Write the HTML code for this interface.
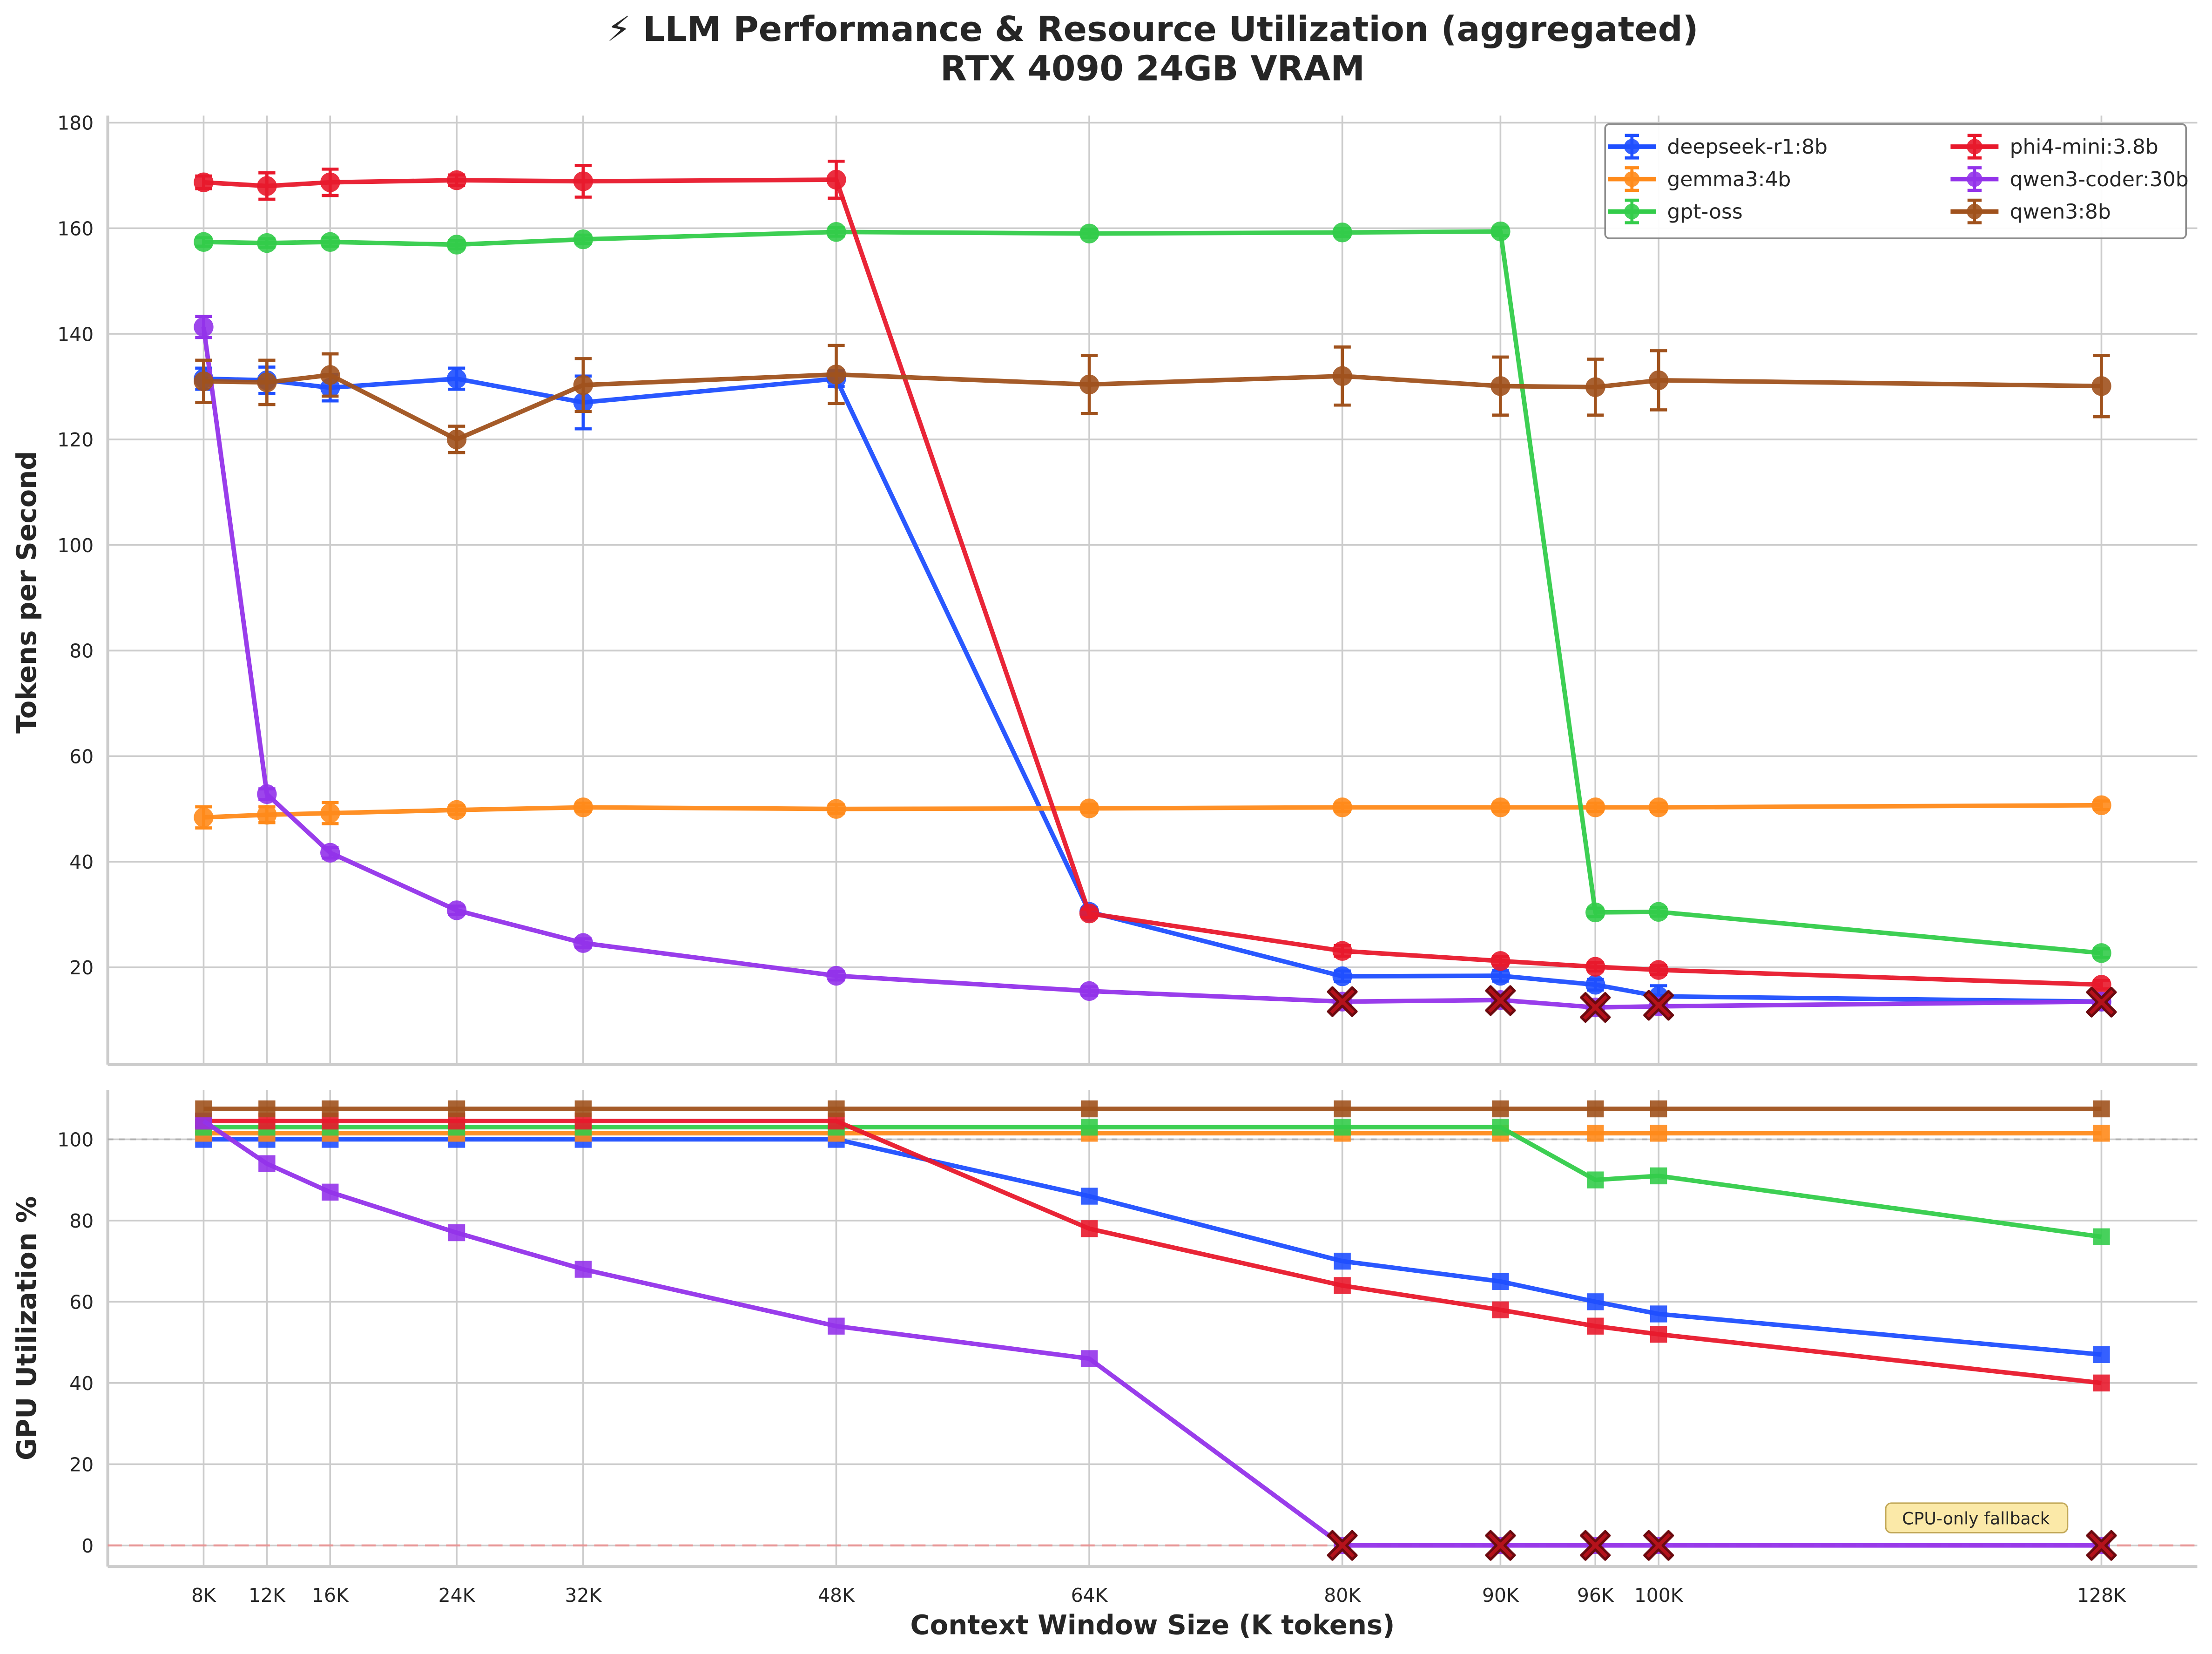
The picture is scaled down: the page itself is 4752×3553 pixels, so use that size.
<!DOCTYPE html>
<html><head><meta charset="utf-8"><style>
html,body{margin:0;padding:0;background:#fff}
svg{display:block}
text{font-family:"DejaVu Sans","Liberation Sans",sans-serif;fill:#262626}
</style></head><body>
<svg id="chart" xmlns="http://www.w3.org/2000/svg" width="4752" height="3553" viewBox="0 0 1568 1173">
<rect width="1568" height="1173" fill="#fff"/>
<text x="817" y="29" text-anchor="middle" font-size="24.5" font-weight="bold">⚡ LLM Performance &amp; Resource Utilization (aggregated)</text>
<text x="817" y="57" text-anchor="middle" font-size="24.5" font-weight="bold">RTX 4090 24GB VRAM</text>
<g id="topPlot"></g><g id="botPlot"></g><g id="legendGroup"></g>
</svg>
<script>
const contexts=[8,12,16,24,32,48,64,80,90,96,100,128];
const tickLabels=["8K","12K","16K","24K","32K","48K","64K","80K","90K","96K","100K","128K"];
const models=["deepseek-r1:8b","gemma3:4b","gpt-oss","phi4-mini:3.8b","qwen3-coder:30b","qwen3:8b"];
const colors=["#1f4fff","#ff8a1a","#33cc4a","#e8192c","#9333ea","#a0521d"];
const tpsDeepseek=[131.5,131.2,129.8,131.5,127,131.5,30.5,18.3,18.4,16.7,14.5,13.5];
const tpsGemma=[48.4,48.9,49.2,49.8,50.3,50.0,50.1,50.3,50.3,50.3,50.3,50.7];
const tpsGptoss=[157.4,157.2,157.4,156.9,157.9,159.3,159.0,159.2,159.4,30.4,30.5,22.7];
const tpsPhi4=[168.7,168.0,168.7,169.1,168.9,169.2,30.2,23.1,21.2,20.1,19.5,16.7];
const tpsQwenCoder=[141.3,52.8,41.7,30.8,24.6,18.4,15.5,13.5,13.8,12.4,12.6,13.5];
const tpsQwen3=[131.0,130.8,132.2,120.0,130.3,132.3,130.4,132.0,130.1,129.9,131.2,130.1];
const errDeepseek=[2,2.5,2.5,2,5,1.5,0.8,1,1,1,2,0.8];
const errGemma=[2,1.5,2,0.8,0.8,0.8,0.8,0.8,0.8,0.8,0.8,0.8];
const errGptoss=[0.8,0.8,0.8,0.8,0.8,0.8,0.8,0.8,0.8,0.8,0.8,0.8];
const errPhi4=[1.2,2.5,2.5,1,3,3.5,0.8,1,0.8,0.8,0.8,0.8];
const errQwenCoder=[2,1,1,0.8,0.8,0.8,0.8,0.8,0.8,0.8,0.8,0.8];
const errQwen3=[4,4.2,4,2.5,5,5.5,5.5,5.5,5.5,5.3,5.6,5.8];
const gpuDeepseek=[100,100,100,100,100,100,86,70,65,60,57,47];
const gpuGemma=[101.5,101.5,101.5,101.5,101.5,101.5,101.5,101.5,101.5,101.5,101.5,101.5];
const gpuGptoss=[103,103,103,103,103,103,103,103,103,90,91,76];
const gpuPhi4=[104.5,104.5,104.5,104.5,104.5,104.5,78,64,58,54,52,40];
const gpuQwenCoder=[104.5,94,87,77,68,54,46,0,0,0,0,0];
const gpuQwen3=[107.5,107.5,107.5,107.5,107.5,107.5,107.5,107.5,107.5,107.5,107.5,107.5];
const cpuFallbackCtx=[80,90,96,100,128];
const cpuFallbackTps=[13.5,13.7,12.4,12.8,13.4];
const tpsTicks=[20,40,60,80,100,120,140,160,180];
const gpuTicks=[0,20,40,60,80,100];
const tps=[tpsDeepseek,tpsGemma,tpsGptoss,tpsPhi4,tpsQwenCoder,tpsQwen3];
const errs=[errDeepseek,errGemma,errGptoss,errPhi4,errQwenCoder,errQwen3];
const gpu=[gpuDeepseek,gpuGemma,gpuGptoss,gpuPhi4,gpuQwenCoder,gpuQwen3];

const NS="http://www.w3.org/2000/svg";
function mk(parent,tag,attrs){const e=document.createElementNS(NS,tag);for(const k in attrs)e.setAttribute(k,attrs[k]);parent.appendChild(e);return e;}
const X0=76,X1=1558;
const x=k=>144+(k-8)*(1490-144)/120;
const yT=v=>686-(v-20)*(686-87)/160;
const yB=v=>1096-v*(1096-808)/100;
const gTop=document.getElementById('topPlot'),gBot=document.getElementById('botPlot'),gLeg=document.getElementById('legendGroup');

function grid(g,yf,ticks,yTop,yBot,showX,nm){
  ticks.forEach(t=>{
    const l=mk(g,'line',{x1:X0,x2:X1,y1:yf(t),y2:yf(t),stroke:'#cccccc','stroke-width':1.2});
    
    
    const tx=mk(g,'text',{x:X0-10,y:yf(t)+5,'text-anchor':'end','font-size':13.5});
    tx.textContent=t;
    
    
  });
  contexts.forEach((c,i)=>{
    const l=mk(g,'line',{x1:x(c),x2:x(c),y1:yTop,y2:yBot,stroke:'#cccccc','stroke-width':1.2});
    
    
    if(showX){const tx=mk(g,'text',{x:x(c),y:yBot+25,'text-anchor':'middle','font-size':13.5});tx.textContent=tickLabels[i];
      
      }
  });
  const s1=mk(g,'line',{x1:X0,x2:X0,y1:yTop,y2:yBot,stroke:'#cccccc','stroke-width':2});
  
  
  const s2=mk(g,'line',{x1:X0,x2:X1,y1:yBot,y2:yBot,stroke:'#cccccc','stroke-width':2});
  
  
}
grid(gTop,yT,tpsTicks,82,755,false,'tps');
grid(gBot,yB,gpuTicks,773,1111,true,'gpu');

function xMark(g,cx,cy){
  const a=10,b=3;
  const p=mk(g,'path',{d:`M${cx-a},${cy-a+b} L${cx-a+b},${cy-a} L${cx},${cy-b} L${cx+a-b},${cy-a} L${cx+a},${cy-a+b} L${cx+b},${cy} L${cx+a},${cy+a-b} L${cx+a-b},${cy+a} L${cx},${cy+b} L${cx-a+b},${cy+a} L${cx-a},${cy+a-b} L${cx-b},${cy} Z`,fill:'#b5121b',stroke:'#6b0a0f','stroke-width':1.8,'stroke-linejoin':'round'});
  
  
}

const r1=mk(gBot,'line',{x1:X0,x2:X1,y1:yB(100),y2:yB(100),stroke:'#aaaaaa','stroke-width':1.3,'stroke-dasharray':'4,4',opacity:0.8});


const r2=mk(gBot,'line',{x1:X0,x2:X1,y1:yB(0),y2:yB(0),stroke:'#f08080','stroke-width':1.5,'stroke-dasharray':'10,5',opacity:0.7});



models.forEach((m,mi)=>{
  const c=colors[mi];
  const g=mk(gTop,'g',{});
  
  
  const pl=mk(g,'polyline',{points:contexts.map((k,i)=>x(k)+','+yT(tps[mi][i])).join(' '),fill:'none',stroke:c,'stroke-width':3.2,'stroke-linejoin':'round',opacity:0.95});
  
  
  contexts.forEach((k,i)=>{
    const v=tps[mi][i],e=errs[mi][i],cx=x(k);
    const eb=mk(g,'path',{d:`M${cx},${yT(v+e)}V${yT(v-e)}M${cx-6},${yT(v+e)}H${cx+6}M${cx-6},${yT(v-e)}H${cx+6}`,stroke:c,'stroke-width':2.2,fill:'none'});
    
    
    const pt=mk(g,'circle',{cx:cx,cy:yT(v),r:6.5,fill:c,stroke:c,'stroke-width':1,opacity:0.9});
    
    
  });
  const g2=mk(gBot,'g',{});
  
  
  const pl2=mk(g2,'polyline',{points:contexts.map((k,i)=>x(k)+','+yB(gpu[mi][i])).join(' '),fill:'none',stroke:c,'stroke-width':3.2,'stroke-linejoin':'round',opacity:0.95});
  
  
  contexts.forEach((k,i)=>{
    const sq=mk(g2,'rect',{x:x(k)-6,y:yB(gpu[mi][i])-6,width:12,height:12,fill:c,opacity:0.9});
    
    
  });
});
cpuFallbackCtx.forEach((k,i)=>{xMark(gTop,x(k),yT(cpuFallbackTps[i]));xMark(gBot,x(k),yB(0));});

const ab=mk(gBot,'rect',{x:1337,y:1066,width:129,height:21,rx:4,fill:'#fbe69a',stroke:'#b89a3c','stroke-width':1,opacity:0.85});


const at=mk(gBot,'text',{x:1401,y:1081,'text-anchor':'middle','font-size':12,fill:'#555'});
at.textContent='CPU-only fallback';



const yl1=mk(gTop,'text',{x:0,y:0,transform:'translate(25,420) rotate(-90)','text-anchor':'middle','font-size':19,'font-weight':'bold'});
yl1.textContent='Tokens per Second';


const yl2=mk(gBot,'text',{x:0,y:0,transform:'translate(25,942) rotate(-90)','text-anchor':'middle','font-size':19,'font-weight':'bold'});
yl2.textContent='GPU Utilization %';


const xl=mk(gBot,'text',{x:817,y:1159,'text-anchor':'middle','font-size':19,'font-weight':'bold'});
xl.textContent='Context Window Size (K tokens)';



const lb=mk(gLeg,'rect',{x:1138,y:88,width:412,height:81,rx:3,fill:'#fff',stroke:'#888','stroke-width':1.2,opacity:0.95});


models.forEach((m,mi)=>{
  const col=Math.floor(mi/3),row=mi%3;
  const mx=1157+col*243,my=104+row*23,c=colors[mi];
  const g=mk(gLeg,'g',{});
  
  
  mk(g,'line',{x1:mx-17,x2:mx+17,y1:my,y2:my,stroke:c,'stroke-width':3.2});
  mk(g,'path',{d:`M${mx},${my-8}V${my+8}M${mx-5},${my-8}H${mx+5}M${mx-5},${my+8}H${mx+5}`,stroke:c,'stroke-width':2.2});
  mk(g,'circle',{cx:mx,cy:my,r:5.5,fill:c,opacity:0.9});
  const t=mk(g,'text',{x:mx+25,y:my+5,'font-size':14.5});
  t.textContent=m;
});
</script>
</body></html>
